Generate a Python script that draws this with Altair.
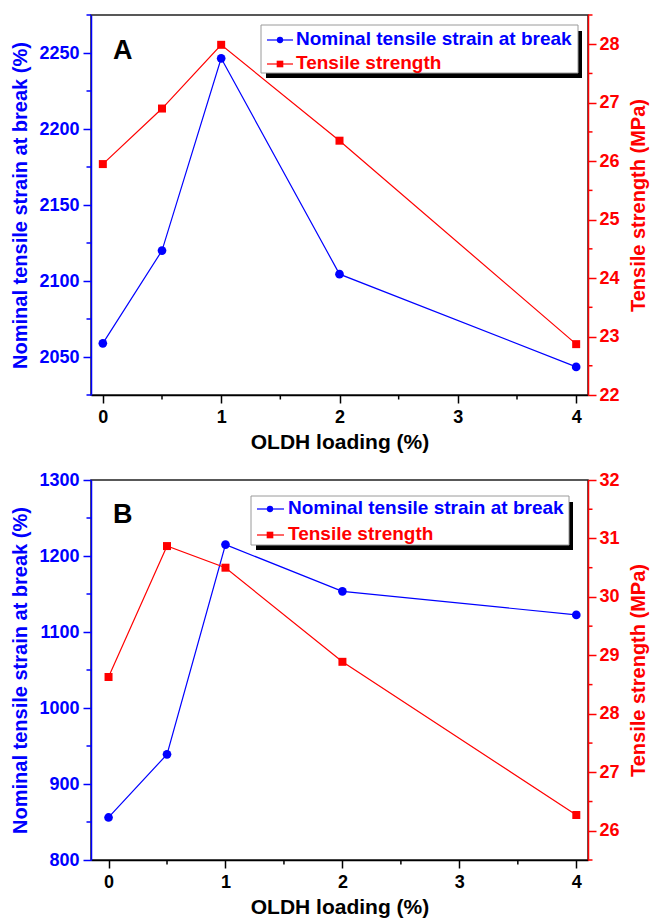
import altair as alt
import pandas as pd

# ---------------- data ----------------
loading = [0, 0.5, 1, 2, 4]
strain_A = [2059, 2120, 2246.5, 2104.5, 2043.5]
strength_A = [25.95, 26.9, 27.99, 26.35, 22.87]
strain_B = [856, 939, 1215, 1153.5, 1122.5]
strength_B = [28.63, 30.87, 30.5, 28.89, 26.27]

panel_labels = ["A", "B"]
legend_labels = ["Nominal tensile strain at break", "Tensile strength"]
x_title = "OLDH loading (%)"
y_left_title = "Nominal tensile strain at break (%)"
y_right_title = "Tensile strength (MPa)"

x_major = [0, 1, 2, 3, 4]
x_minor = [0.5, 1.5, 2.5, 3.5]
A_left_major = [2050, 2100, 2150, 2200, 2250]
A_left_minor = [2025, 2075, 2125, 2175, 2225, 2275]
A_right_major = [22, 23, 24, 25, 26, 27, 28]
A_right_minor = [22.5, 23.5, 24.5, 25.5, 26.5, 27.5, 28.5]
B_left_major = [800, 900, 1000, 1100, 1200, 1300]
B_left_minor = [850, 950, 1050, 1150, 1250]
B_right_major = [26, 27, 28, 29, 30, 31, 32]
B_right_minor = [25.5, 26.5, 27.5, 28.5, 29.5, 30.5, 31.5]

# ---------------- styles ----------------
FONT = "Liberation Sans"
BLUE = "#0000ff"
RED = "#ff0000"
W, H = 497, 380
MAJOR, MINOR = 8, 4.5


def axis_common(color):
    return dict(
        format="d", tickSize=MAJOR, labelFontSize=18, labelColor=color, titleColor=color,
        domainColor=color, tickColor=color, domainWidth=1.5, tickWidth=1.5,
        labelOverlap=False, labelFlush=False, tickCount=40,
    )


def panel(strain, strength, letter, xdom, ldom, lmaj, lmin, rdom, rmaj, rmin, leg):
    df = pd.DataFrame({"loading": loading, "strain": strain, "strength": strength})
    xscale = alt.Scale(domain=xdom, nice=False, zero=False)
    lscale = alt.Scale(domain=ldom, nice=False, zero=False)
    rscale = alt.Scale(domain=rdom, nice=False, zero=False)

    x_axis = alt.Axis(values=x_major, title=x_title, titleFontSize=21, titlePadding=5,
                      labelPadding=5, **axis_common("black"))
    l_axis = alt.Axis(orient="left", values=lmaj, title=y_left_title, titleFontSize=20,
                      titlePadding=8, labelPadding=4, **axis_common(BLUE))
    r_axis = alt.Axis(orient="right", values=rmaj, title=y_right_title, titleFontSize=20,
                      titleAngle=270, titleBaseline="top", titlePadding=9, labelPadding=3,
                      **axis_common(RED))

    blue_line = alt.Chart(df).mark_line(
        color=BLUE, strokeWidth=1.2,
        point=alt.OverlayMarkDef(filled=True, shape="circle", size=75, color=BLUE, opacity=1),
    ).encode(
        x=alt.X("loading:Q", scale=xscale, axis=x_axis),
        y=alt.Y("strain:Q", scale=lscale, axis=l_axis),
    )
    blue_minor = alt.Chart(pd.DataFrame({"v": lmin})).mark_rule(
        color=BLUE, strokeWidth=1.5
    ).encode(y=alt.Y("v:Q", scale=lscale, axis=l_axis), x=alt.value(-MINOR), x2=alt.value(0))
    blue = alt.layer(blue_line, blue_minor)

    red_line = alt.Chart(df).mark_line(
        color=RED, strokeWidth=1.2,
        point=alt.OverlayMarkDef(filled=True, shape="square", size=64, color=RED, opacity=1),
    ).encode(
        x=alt.X("loading:Q", scale=xscale, axis=x_axis),
        y=alt.Y("strength:Q", scale=rscale, axis=r_axis),
    )
    red_minor = alt.Chart(pd.DataFrame({"v": rmin})).mark_rule(
        color=RED, strokeWidth=1.5
    ).encode(y=alt.Y("v:Q", scale=rscale, axis=r_axis), x=alt.value(W), x2=alt.value(W + MINOR))
    red = alt.layer(red_line, red_minor)

    x_minor_layer = alt.Chart(pd.DataFrame({"v": x_minor})).mark_rule(
        color="black", strokeWidth=1.5
    ).encode(x=alt.X("v:Q", scale=xscale, axis=x_axis), y=alt.value(H), y2=alt.value(H + MINOR))

    one = pd.DataFrame({"k": [0]})
    shadow = alt.Chart(one).mark_rect(color="black").encode(
        x=alt.value(leg["box"][0] + 5), x2=alt.value(leg["box"][1] + 4),
        y=alt.value(leg["box"][2] + 6), y2=alt.value(leg["box"][3] + 5),
    )
    box = alt.Chart(one).mark_rect(fill="white", stroke="#9a9a9a", strokeWidth=1).encode(
        x=alt.value(leg["box"][0]), x2=alt.value(leg["box"][1]),
        y=alt.value(leg["box"][2]), y2=alt.value(leg["box"][3]),
    )

    entries = []
    colors = [BLUE, RED]
    shapes = ["circle", "square"]
    sizes = [40, 44]
    for i, lab in enumerate(legend_labels):
        yy = leg["rows"][i]
        entries.append(
            alt.Chart(one).mark_rule(color=colors[i], strokeWidth=1.2).encode(
                x=alt.value(leg["sym"][0]), x2=alt.value(leg["sym"][2]), y=alt.value(yy)
            )
        )
        entries.append(
            alt.Chart(one).mark_point(filled=True, shape=shapes[i], size=sizes[i],
                                      color=colors[i], opacity=1).encode(
                x=alt.value(leg["sym"][1]), y=alt.value(yy)
            )
        )
        entries.append(
            alt.Chart(pd.DataFrame({"label": [lab]})).mark_text(
                align="left", baseline="alphabetic", font=FONT, fontSize=19,
                fontWeight="bold", color=colors[i],
            ).encode(text="label:N", x=alt.value(leg["text_x"]), y=alt.value(yy + leg["text_dy"]))
        )

    letter_layer = alt.Chart(pd.DataFrame({"label": [letter]})).mark_text(
        align="left", baseline="alphabetic", font=FONT, fontSize=27,
        fontWeight="bold", color="black",
    ).encode(text="label:N", x=alt.value(22), y=alt.value(leg["letter_y"]))

    return (
        alt.layer(blue, red, x_minor_layer, shadow, box, *entries, letter_layer)
        .resolve_scale(y="independent")
        .properties(width=W, height=H)
    )


legA = {"box": [170, 487, 10, 58], "rows": [25, 49], "sym": [176, 189, 202],
        "text_x": 205, "text_dy": 5, "letter_y": 44}
legB = {"box": [160, 478, 16, 65], "rows": [29, 55], "sym": [166, 179, 193],
        "text_x": 197, "text_dy": 5, "letter_y": 43}

pA = panel(strain_A, strength_A, panel_labels[0], [-0.1, 4.1], [2025, 2275],
           A_left_major, A_left_minor, [22, 28.5], A_right_major, A_right_minor, legA)
pB = panel(strain_B, strength_B, panel_labels[1], [-0.15, 4.1], [800, 1300],
           B_left_major, B_left_minor, [25.5, 32], B_right_major, B_right_minor, legB)

chart = (
    alt.vconcat(pA, pB, spacing=17)
    .properties(padding={"top": 13, "left": 10, "right": 2, "bottom": 0}, background="white")
    .configure_view(stroke="#222222", strokeWidth=1.5)
    .configure_axis(labelFont=FONT, titleFont=FONT, labelFontWeight="bold",
                    titleFontWeight="bold", grid=False)
)

chart.save("out.html", embed_options={"renderer": "svg", "actions": False})
